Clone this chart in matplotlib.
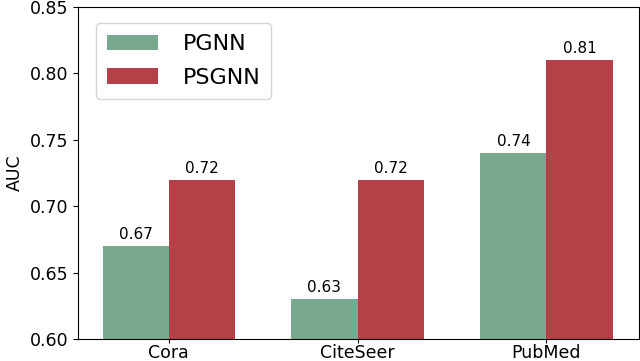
import matplotlib
matplotlib.use("Agg")
import matplotlib.pyplot as plt
import numpy as np

# dati
datasets = ["Cora", "CiteSeer", "PubMed"]
pgnn = [0.67, 0.63, 0.74]
psgnn = [0.72, 0.72, 0.81]

fig = plt.figure(figsize=(6.4, 3.61), dpi=100)
ax = fig.add_axes([78 / 640, 22 / 361, 561 / 640, 332 / 361])

x = np.arange(len(datasets))
w = 0.35
b1 = ax.bar(x - w / 2, pgnn, w, color="#78a98e", label="PGNN")
b2 = ax.bar(x + w / 2, psgnn, w, color="#b64048", label="PSGNN")

for bars in (b1, b2):
    for r in bars:
        ax.text(r.get_x() + r.get_width() / 2, r.get_height() + 0.003,
                "%.2f" % r.get_height(), ha="center", va="bottom", fontsize=11)

ax.set_ylim(0.60, 0.85)
ax.set_xlim(-0.48, 2.49)
ax.set_xticks(x)
ax.set_xticklabels(datasets)
ax.set_yticks([0.60, 0.65, 0.70, 0.75, 0.80, 0.85])
ax.tick_params(labelsize=12.5)
ax.tick_params(axis="x", pad=0.5, length=3)
ax.set_ylabel("AUC", fontsize=12.5)
ax.legend(loc="upper left", fontsize=16, handlelength=2.3, borderpad=0.5,
          handletextpad=1.1, labelspacing=0.6, bbox_to_anchor=(0.012, 0.985))

fig.savefig("out.png", dpi=100)
